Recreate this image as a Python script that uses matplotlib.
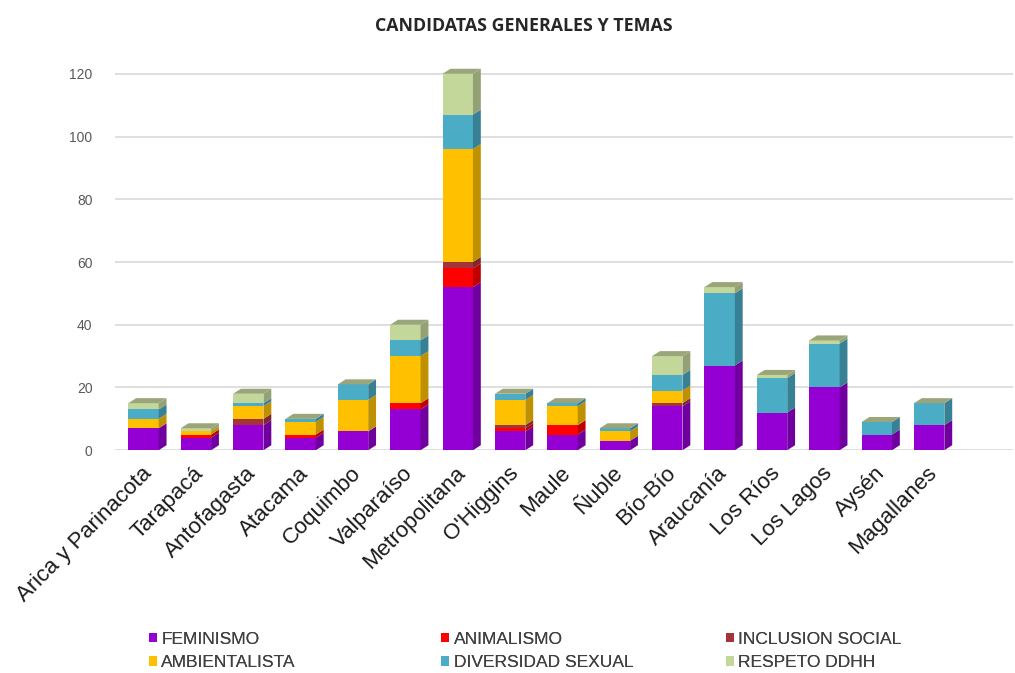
import numpy as np
import matplotlib.pyplot as plt
from matplotlib.patches import Polygon
from matplotlib.colors import to_rgb

plt.rcParams['font.family'] = ['Liberation Sans', 'DejaVu Sans']

# datos
regiones = ['Arica y Parinacota', 'Tarapacá', 'Antofagasta', 'Atacama', 'Coquimbo',
            'Valparaíso', 'Metropolitana', "O'Higgins", 'Maule', 'Ñuble', 'Bío-Bío',
            'Araucanía', 'Los Ríos', 'Los Lagos', 'Aysén', 'Magallanes']

feminismo     = [7, 4, 8, 4, 6, 13, 52, 6, 5, 3, 14, 27, 12, 20, 5, 8]
animalismo    = [0, 1, 0, 1, 0, 2, 6, 1, 3, 0, 0, 0, 0, 0, 0, 0]
inclusion     = [0, 0, 2, 0, 0, 0, 2, 1, 0, 0, 1, 0, 0, 0, 0, 0]
ambientalista = [3, 1, 4, 4, 10, 15, 36, 8, 6, 3, 4, 0, 0, 0, 0, 0]
diversidad    = [3, 0, 1, 1, 5, 5, 11, 2, 1, 1, 5, 23, 11, 14, 4, 7]
respeto       = [2, 1, 3, 0, 0, 5, 13, 0, 0, 0, 6, 2, 1, 1, 0, 0]

temas = ['FEMINISMO', 'ANIMALISMO', 'INCLUSION SOCIAL',
         'AMBIENTALISTA', 'DIVERSIDAD SEXUAL', 'RESPETO DDHH']
series = [feminismo, animalismo, inclusion, ambientalista, diversidad, respeto]
colores = ['#9400D3', '#FF0000', '#A5343A', '#FFC000', '#4BACC6', '#C4D79B']

def shade(c, f):
    r, g, b = to_rgb(c)
    return (r * f, g * f, b * f)

fig = plt.figure(figsize=(10.15, 6.73), dpi=100)
ax = fig.add_axes([0.113, 0.331, 0.885, 0.578])

x = np.arange(len(regiones))
w = 0.58
dx, dy = 0.15, 1.6

bottom = np.zeros(len(regiones))
handles = []
for nombre, vals, col in zip(temas, series, colores):
    vals = np.array(vals, dtype=float)
    h = ax.bar(x, vals, w, bottom=bottom, color=col, label=nombre, zorder=3)
    handles.append(h)
    for xi, b, v in zip(x, bottom, vals):
        if v <= 0:
            continue
        t = b + v
        side = Polygon([(xi + w / 2, b), (xi + w / 2 + dx, b + dy),
                        (xi + w / 2 + dx, t + dy), (xi + w / 2, t)],
                       closed=True, facecolor=shade(col, 0.75), edgecolor='none', zorder=3)
        ax.add_patch(side)
    bottom = bottom + vals

# cara superior de cada columna
totales = bottom
for xi, t in zip(x, totales):
    top = Polygon([(xi - w / 2, t), (xi + w / 2, t), (xi + w / 2 + dx, t + dy),
                   (xi - w / 2 + dx, t + dy)],
                  closed=True, facecolor='#9AA57A', edgecolor='none', zorder=4)
    ax.add_patch(top)

ax.set_xlim(-0.55, 16.6)
ax.set_ylim(0, 124)
ax.set_yticks(range(0, 121, 20))
ax.yaxis.grid(True, color='#D9D9D9', linewidth=1.2, zorder=0)
ax.set_axisbelow(True)
for s in ax.spines.values():
    s.set_visible(False)
ax.tick_params(axis='y', length=0, labelsize=10, labelcolor='#595959', pad=16)
ax.tick_params(axis='x', length=0, pad=9)
ax.set_xticks(x - 0.05)
ax.set_xticklabels(regiones, rotation=45, ha='right', va='top',
                   rotation_mode='anchor', fontsize=16, color='#1a1a1a')

fig.text(0.516, 0.962, 'CANDIDATAS GENERALES Y TEMAS', ha='center', va='center',
         fontsize=12.8, fontweight='bold', color='#262626', family=['Open Sans', 'DejaVu Sans'])

# leyenda en tres columnas, cada una con dos temas
columnas = [(0, 3, 0.135), (1, 4, 0.423), (2, 5, 0.703)]
for i, j, px in columnas:
    leg = fig.legend([handles[i], handles[j]], [temas[i], temas[j]],
                     loc='lower left', bbox_to_anchor=(px, -0.014), ncol=1, frameon=False,
                     fontsize=12.5, handlelength=0.45, handleheight=0.45, handletextpad=0.25,
                     labelspacing=0.5, labelcolor='#404040', borderaxespad=0.3)
    fig.add_artist(leg)

fig.savefig('out.png', dpi=100)
